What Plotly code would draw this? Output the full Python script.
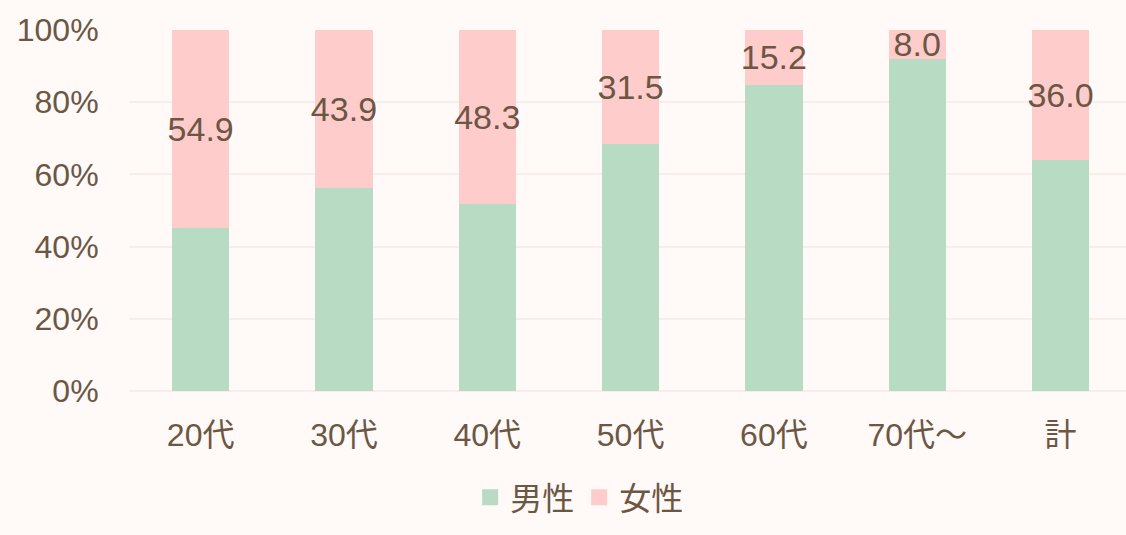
import plotly.graph_objects as go

categories = ["20代", "30代", "40代", "50代", "60代", "70代～", "計"]
female = [54.9, 43.9, 48.3, 31.5, 15.2, 8.0, 36.0]
male = [45.1, 56.1, 51.7, 68.5, 84.8, 92.0, 64.0]
y_ticks = [0, 20, 40, 60, 80, 100]

bg = "#FFF9F7"
text_color = "#6B5744"
male_color = "#B8DBC3"
female_color = "#FFCCCC"
font_family = "Liberation Sans, Arial, Noto Sans CJK JP, sans-serif"

fig = go.Figure()
fig.add_trace(
    go.Bar(
        x=categories,
        y=male,
        name="男性",
        marker=dict(color=male_color, line=dict(width=0)),
        showlegend=False,
    )
)
fig.add_trace(
    go.Bar(
        x=categories,
        y=female,
        name="女性",
        marker=dict(color=female_color, line=dict(width=0)),
        text=[f"{v:.1f}" for v in female],
        textposition="inside",
        insidetextanchor="middle",
        textangle=0,
        textfont=dict(size=34, color=text_color),
        constraintext="none",
        showlegend=False,
    )
)

# legend entries with bigger square swatches
for name, color in [("男性", male_color), ("女性", female_color)]:
    fig.add_trace(
        go.Scatter(
            x=[None],
            y=[None],
            mode="markers",
            name=name,
            marker=dict(symbol="square", size=17, color=color),
        )
    )

fig.update_layout(
    barmode="stack",
    bargap=0.6,
    width=1126,
    height=535,
    paper_bgcolor=bg,
    plot_bgcolor=bg,
    font=dict(family=font_family, size=32, color=text_color),
    margin=dict(l=129, r=0, t=30, b=144),
    legend=dict(
        orientation="h",
        x=0.452,
        xanchor="center",
        y=-0.219,
        yanchor="top",
        font=dict(size=32, color=text_color),
        itemwidth=30,
        tracegroupgap=0,
        traceorder="normal",
    ),
    xaxis=dict(
        range=[-0.5, 6.457],
        showgrid=False,
        showline=False,
        ticks="outside",
        ticklen=16,
        tickcolor=bg,
    ),
    yaxis=dict(
        range=[0, 100],
        tickvals=y_ticks,
        ticktext=[f"{v}%" for v in y_ticks],
        showgrid=True,
        gridcolor="#F7EDE9",
        gridwidth=1.5,
        zeroline=True,
        zerolinecolor="#F7EDE9",
        zerolinewidth=1.5,
        ticks="outside",
        ticklen=23,
        tickcolor=bg,
    ),
)

fig.write_html(
    "out.html",
    config={"displayModeBar": False},
    post_script="document.body.style.margin='0';",
)
